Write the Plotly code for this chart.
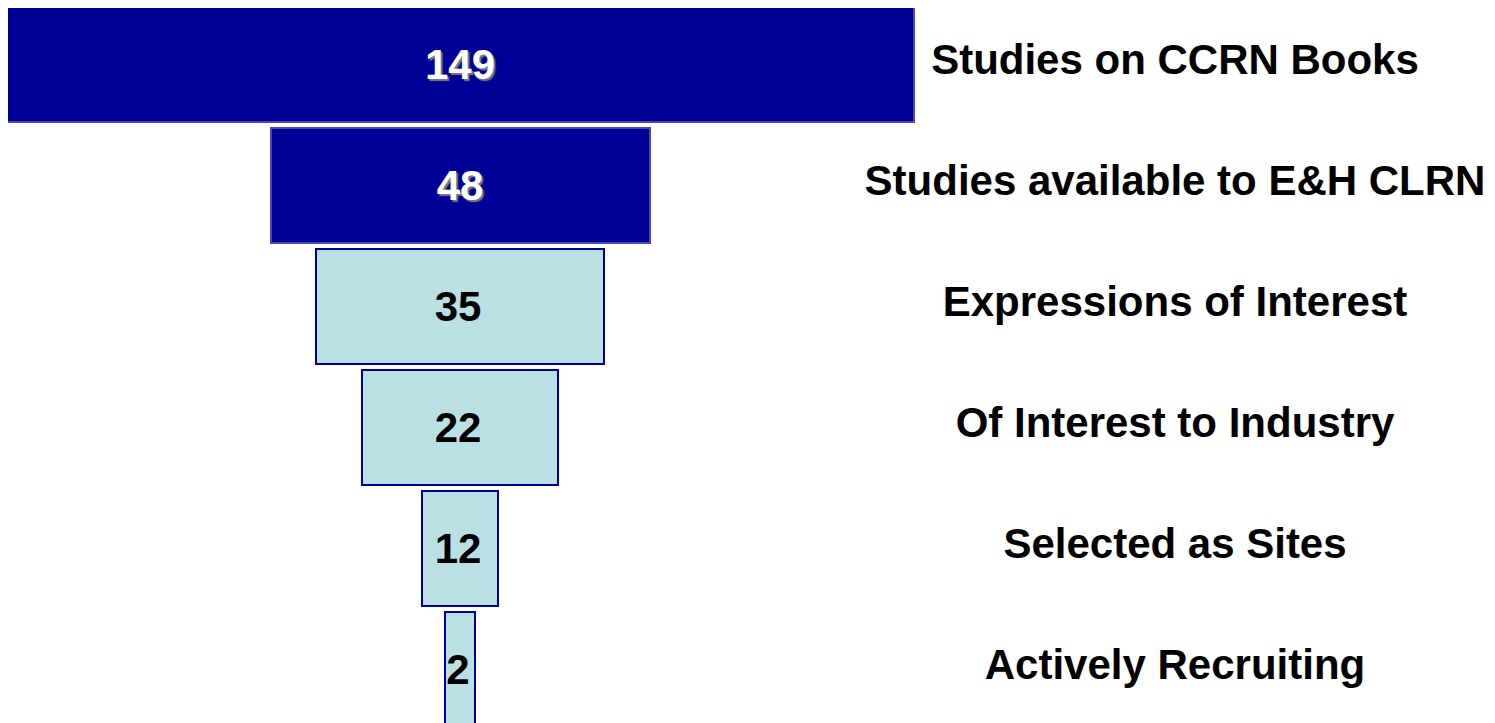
import plotly.graph_objects as go

# Stage names and counts
stages = [
    "Studies on CCRN Books",
    "Studies available to E&H CLRN",
    "Expressions of Interest",
    "Of Interest to Industry",
    "Selected as Sites",
    "Actively Recruiting",
]
counts = [149, 48, 35, 22, 12, 2]
# Drawn bar lengths (relative units, top bar = 908)
bar_length = [908, 379, 288, 196, 76, 30]

dark_blue = "#000099"
light_blue = "#BAE0E3"
fills = [dark_blue, dark_blue, light_blue, light_blue, light_blue, light_blue]
edges = ["#4A4AAE", "#4A4AAE", dark_blue, dark_blue, dark_blue, dark_blue]

rows = list(range(len(stages)))
FONT = "Liberation Sans, Arial, sans-serif"

fig = go.Figure()

fig.add_trace(go.Bar(
    orientation="h",
    y=rows,
    x=bar_length,
    base=[-w / 2 for w in bar_length],
    width=0.95,
    marker=dict(color=fills, line=dict(color=edges, width=2)),
    hoverinfo="skip",
    showlegend=False,
))

# Count labels: white with shadow on dark bars, black on light bars
dark_idx = [i for i, c in enumerate(fills) if c == dark_blue]
light_idx = [i for i, c in enumerate(fills) if c != dark_blue]

fig.add_trace(go.Scatter(
    x=[0] * len(dark_idx),
    y=[rows[i] + 0.035 for i in dark_idx],
    text=[str(counts[i]) for i in dark_idx],
    mode="text",
    textposition="middle center",
    textfont=dict(family=FONT, size=42, color="white", weight="bold",
                  shadow="2px 2px 1px #7a7a7a"),
    hoverinfo="skip",
    showlegend=False,
))
fig.add_trace(go.Scatter(
    x=[-2] * len(light_idx),
    y=[rows[i] + 0.035 for i in light_idx],
    text=[str(counts[i]) for i in light_idx],
    mode="text",
    textposition="middle center",
    textfont=dict(family=FONT, size=42, color="black", weight="bold"),
    hoverinfo="skip",
    showlegend=False,
))

# Stage names to the right
fig.add_trace(go.Scatter(
    x=[715] * len(stages),
    y=[r - 0.005 for r in rows],
    text=stages,
    mode="text",
    textposition="middle center",
    textfont=dict(family=FONT, size=42, color="black", weight="bold"),
    hoverinfo="skip",
    showlegend=False,
))

fig.update_layout(
    width=1495,
    height=723,
    margin=dict(l=0, r=0, t=0, b=0),
    paper_bgcolor="white",
    plot_bgcolor="white",
    showlegend=False,
    xaxis=dict(range=[-452, 1043], visible=False, fixedrange=True),
    yaxis=dict(range=[5.508, -0.467], visible=False, fixedrange=True),
    bargap=0,
)

fig.write_html("out.html")
